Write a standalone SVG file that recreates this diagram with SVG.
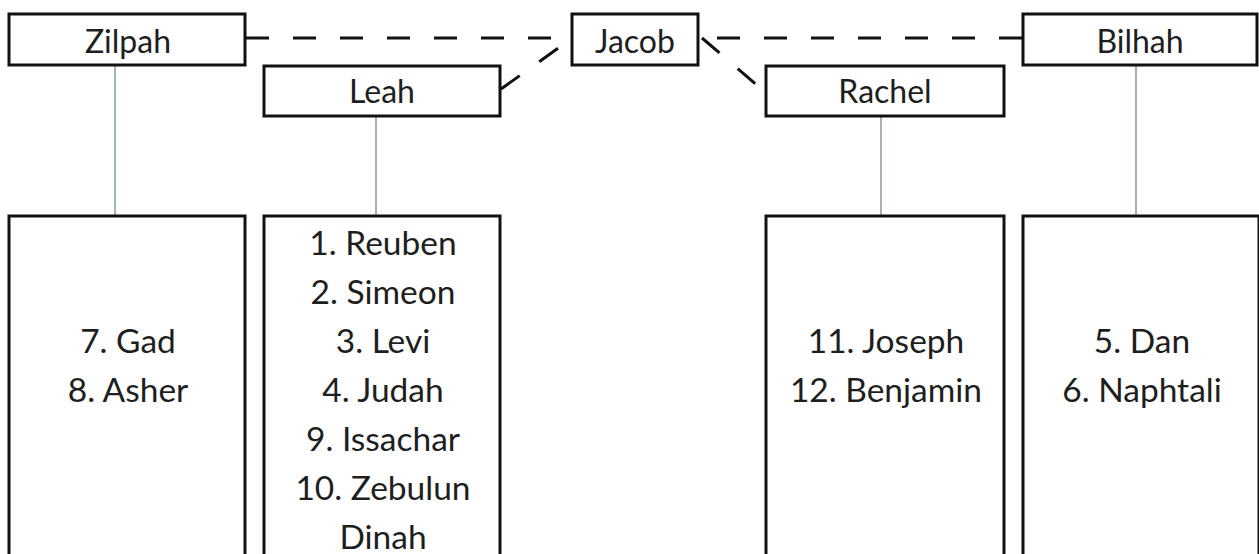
<svg xmlns="http://www.w3.org/2000/svg" width="1259" height="554" viewBox="0 0 1259 554">
<style>
.box{fill:#fff;stroke:#111;stroke-width:3}
.t{font-family:Lato,"Liberation Sans",sans-serif;font-size:32px;fill:#1e1e1e;text-anchor:middle}
.k{font-family:Lato,"Liberation Sans",sans-serif;font-size:33.5px;fill:#1e1e1e;text-anchor:middle}
.dash{stroke:#111;stroke-width:3;stroke-dasharray:23 24;fill:none}
.solid{stroke:#8a98a6;stroke-width:1.5;fill:none}
</style>
<rect width="1259" height="554" fill="#fff"/>
<g id="connectors">
<line class="dash" x1="246" y1="38" x2="571" y2="38"/>
<line class="dash" x1="501" y1="89" x2="571" y2="39"/>
<line class="dash" x1="1022" y1="38" x2="699" y2="38"/>
<line class="dash" x1="702" y1="38" x2="765" y2="92"/>
<line class="solid" x1="115" y1="65" x2="115" y2="216"/>
<line class="solid" x1="376" y1="116" x2="376" y2="216"/>
<line class="solid" x1="881" y1="116" x2="881" y2="216"/>
<line class="solid" x1="1136" y1="65" x2="1136" y2="216"/>
</g>
<g id="zilpah"><rect class="box" x="9" y="14" width="236" height="51"/><text class="t" x="128" y="53">Zilpah</text></g>
<g id="jacob"><rect class="box" x="572" y="14" width="126" height="51"/><text class="t" x="635" y="53">Jacob</text></g>
<g id="bilhah"><rect class="box" x="1023" y="14" width="234" height="51"/><text class="t" x="1140" y="53">Bilhah</text></g>
<g id="leah"><rect class="box" x="264" y="66" width="236" height="50"/><text class="t" x="382" y="103">Leah</text></g>
<g id="rachel"><rect class="box" x="766" y="66" width="238" height="50"/><text class="t" x="885" y="103">Rachel</text></g>
<g id="zilpah-sons"><rect class="box" x="9" y="216" width="236" height="350"/>
<text class="k" x="128" y="353">7. Gad</text><text class="k" x="128" y="402">8. Asher</text></g>
<g id="leah-sons"><rect class="box" x="264" y="216" width="236" height="350"/>
<text class="k" x="383" y="255">1. Reuben</text>
<text class="k" x="383" y="304">2. Simeon</text>
<text class="k" x="383" y="353">3. Levi</text>
<text class="k" x="383" y="402">4. Judah</text>
<text class="k" x="383" y="451">9. Issachar</text>
<text class="k" x="383" y="500">10. Zebulun</text>
<text class="k" x="383" y="549">Dinah</text></g>
<g id="rachel-sons"><rect class="box" x="766" y="216" width="238" height="350"/>
<text class="k" x="886" y="353">11. Joseph</text><text class="k" x="886" y="402">12. Benjamin</text></g>
<g id="bilhah-sons"><rect class="box" x="1023" y="216" width="236" height="350"/>
<text class="k" x="1142" y="353">5. Dan</text><text class="k" x="1142" y="402">6. Naphtali</text></g>
</svg>
